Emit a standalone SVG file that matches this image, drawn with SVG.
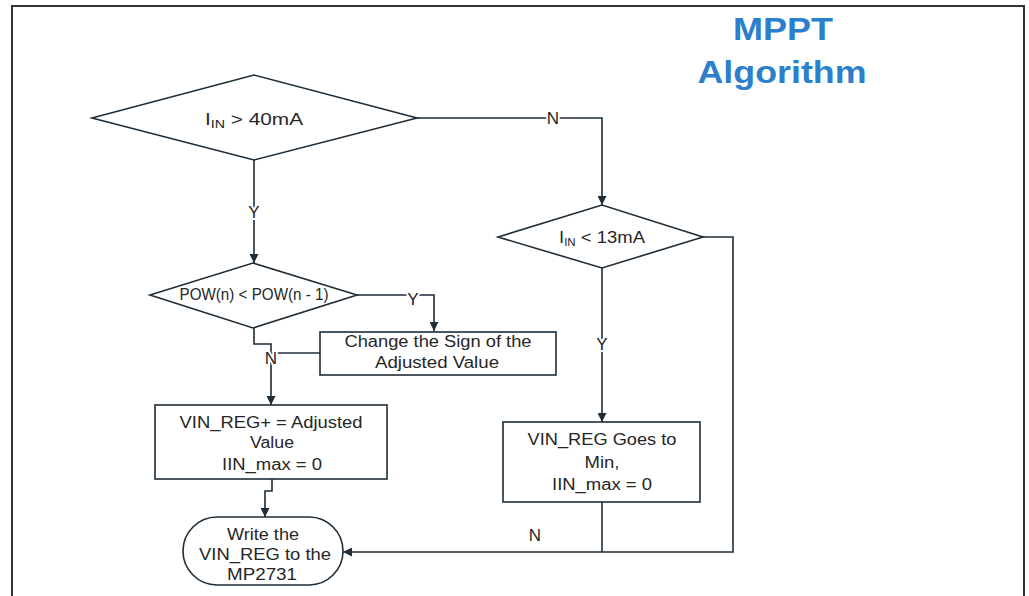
<svg xmlns="http://www.w3.org/2000/svg" width="1029" height="596" viewBox="0 0 1029 596">
<defs>
<marker id="arr" viewBox="0 0 10 10" refX="10" refY="5" markerWidth="9" markerHeight="9" markerUnits="userSpaceOnUse" orient="auto">
<path d="M0,0 L10,5 L0,10 z" fill="#1f2d38"/>
</marker>
</defs>
<style>
.shape{fill:#fff;stroke:#1f2d38;stroke-width:1.6}
.conn{fill:none;stroke:#1f2d38;stroke-width:1.6}
.t{font-family:"Liberation Sans",Arial,sans-serif;font-size:16px;fill:#262626;text-anchor:middle}
.lbl{font-family:"Liberation Sans",Arial,sans-serif;font-size:17px;fill:#262626;text-anchor:middle;stroke:#fff;stroke-width:4;paint-order:stroke}
.title{font-family:"Liberation Sans",Arial,sans-serif;font-size:32px;font-weight:bold;fill:#2b7fcb;text-anchor:middle}
</style>
<rect width="1029" height="596" fill="#fff"/>
<path d="M12,596 V6 H1024 V596" fill="none" stroke="#333" stroke-width="2"/>
<g id="title">
<text class="title" x="783" y="40" textLength="100" lengthAdjust="spacingAndGlyphs">MPPT</text>
<text class="title" x="782" y="83" textLength="169" lengthAdjust="spacingAndGlyphs">Algorithm</text>
</g>
<g id="connectors">
<path class="conn" d="M254,160 V263" marker-end="url(#arr)"/>
<path class="conn" d="M417,118 H602 V205" marker-end="url(#arr)"/>
<path class="conn" d="M357,295 H434 V331" marker-end="url(#arr)"/>
<path class="conn" d="M254,328 V344 H271 V405" marker-end="url(#arr)"/>
<path class="conn" d="M320,353 H271"/>
<path class="conn" d="M272,479 V491 H265 V517" marker-end="url(#arr)"/>
<path class="conn" d="M602,268 V422" marker-end="url(#arr)"/>
<path class="conn" d="M703,237 H733 V552 H343" marker-end="url(#arr)"/>
<path class="conn" d="M602,502 V552"/>
<text class="lbl" x="254" y="218">Y</text>
<text class="lbl" x="553" y="124">N</text>
<text class="lbl" x="413" y="305">Y</text>
<text class="lbl" x="271" y="364">N</text>
<text class="lbl" x="602" y="350">Y</text>
<text class="lbl" x="535" y="541">N</text>
</g>
<g id="d1">
<polygon class="shape" points="92,118 254,75 417,118 254,160"/>
<text class="t" x="254" y="125" font-size="18" textLength="98" lengthAdjust="spacingAndGlyphs">I<tspan font-size="11" dy="3">IN</tspan><tspan dy="-3"> &gt; 40mA</tspan></text>
</g>
<g id="d2">
<polygon class="shape" points="150,295 253,263 357,295 253,328"/>
<text class="t" x="254" y="300" font-size="14" textLength="149" lengthAdjust="spacingAndGlyphs">POW(n) &lt; POW(n - 1)</text>
</g>
<g id="change">
<rect class="shape" x="320" y="332" width="236" height="43"/>
<text class="t" x="438" y="347" textLength="187" lengthAdjust="spacingAndGlyphs">Change the Sign of the</text>
<text class="t" x="437" y="368" textLength="124" lengthAdjust="spacingAndGlyphs">Adjusted Value</text>
</g>
<g id="vinreg-plus">
<rect class="shape" x="155" y="405" width="232" height="74"/>
<text class="t" x="271" y="428" textLength="183" lengthAdjust="spacingAndGlyphs">VIN_REG+ = Adjusted</text>
<text class="t" x="272" y="448" textLength="44" lengthAdjust="spacingAndGlyphs">Value</text>
<text class="t" x="272" y="470" textLength="100" lengthAdjust="spacingAndGlyphs">IIN_max = 0</text>
</g>
<g id="write">
<rect class="shape" x="183" y="517" width="160" height="68" rx="34" ry="34"/>
<text class="t" x="263" y="540" textLength="72" lengthAdjust="spacingAndGlyphs">Write the</text>
<text class="t" x="265" y="560" textLength="132" lengthAdjust="spacingAndGlyphs">VIN_REG to the</text>
<text class="t" x="262" y="580" textLength="70" lengthAdjust="spacingAndGlyphs">MP2731</text>
</g>
<g id="d3">
<polygon class="shape" points="498,237 602,205 703,237 602,268"/>
<text class="t" x="602" y="243" textLength="86" lengthAdjust="spacingAndGlyphs">I<tspan font-size="10" dy="3">IN</tspan><tspan dy="-3"> &lt; 13mA</tspan></text>
</g>
<g id="vinreg-min">
<rect class="shape" x="503" y="422" width="197" height="80"/>
<text class="t" x="602" y="445" textLength="149" lengthAdjust="spacingAndGlyphs">VIN_REG Goes to</text>
<text class="t" x="602" y="468" textLength="35" lengthAdjust="spacingAndGlyphs">Min,</text>
<text class="t" x="602" y="490" textLength="100" lengthAdjust="spacingAndGlyphs">IIN_max = 0</text>
</g>
</svg>
